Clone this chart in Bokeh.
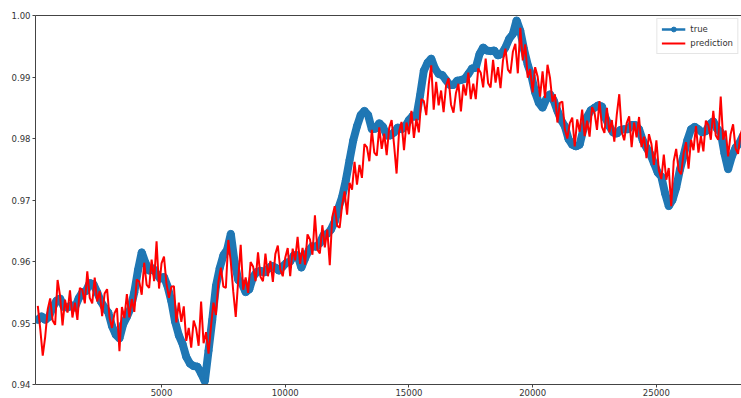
import numpy as np
from bokeh.plotting import figure
from bokeh.models import LinearAxis, FixedTicker, Range1d, Legend, LegendItem
from bokeh.embed import file_html
from bokeh.resources import INLINE

# sample index step for each series
true_step = 150
pred_step = 100

true_vals = [
    0.9505, 0.9511, 0.9505, 0.9510, 0.9525, 0.9536, 0.9540, 0.9526, 0.9525, 0.9529,
    0.9525, 0.9540, 0.9550, 0.9552, 0.9565, 0.9563, 0.9550, 0.9535, 0.9525, 0.9517,
    0.9495, 0.9481, 0.9475, 0.9498, 0.9510, 0.9524, 0.9550, 0.9586, 0.9615, 0.9598,
    0.9585, 0.9589, 0.9580, 0.9572, 0.9575, 0.9559, 0.9535, 0.9502, 0.9480, 0.9466,
    0.9445, 0.9434, 0.9430, 0.9429, 0.9418, 0.9405, 0.9455, 0.9505, 0.9560, 0.9589,
    0.9610, 0.9619, 0.9645, 0.9600, 0.9570, 0.9564, 0.9550, 0.9555, 0.9575, 0.9583,
    0.9585, 0.9582, 0.9588, 0.9593, 0.9590, 0.9585, 0.9592, 0.9598, 0.9600, 0.9610,
    0.9610, 0.9590, 0.9605, 0.9618, 0.9625, 0.9624, 0.9630, 0.9643, 0.9645, 0.9652,
    0.9665, 0.9687, 0.9705, 0.9732, 0.9765, 0.9797, 0.9820, 0.9838, 0.9845, 0.9838,
    0.9815, 0.9816, 0.9825, 0.9819, 0.9805, 0.9805, 0.9810, 0.9818, 0.9815, 0.9820,
    0.9830, 0.9837, 0.9835, 0.9870, 0.9910, 0.9923, 0.9930, 0.9914, 0.9905, 0.9903,
    0.9895, 0.9887, 0.9887, 0.9894, 0.9895, 0.9897, 0.9905, 0.9914, 0.9915, 0.9937,
    0.9948, 0.9943, 0.9942, 0.9943, 0.9935, 0.9938, 0.9948, 0.9962, 0.9970, 0.9992,
    0.9975, 0.9945, 0.9920, 0.9902, 0.9875, 0.9858, 0.9850, 0.9864, 0.9872, 0.9862,
    0.9845, 0.9830, 0.9820, 0.9799, 0.9790, 0.9787, 0.9790, 0.9815, 0.9835, 0.9846,
    0.9850, 0.9854, 0.9852, 0.9833, 0.9820, 0.9810, 0.9808, 0.9814, 0.9815, 0.9815,
    0.9822, 0.9822, 0.9815, 0.9797, 0.9785, 0.9775, 0.9760, 0.9745, 0.9738, 0.9711,
    0.9690, 0.9700, 0.9720, 0.9749, 0.9772, 0.9797, 0.9815, 0.9819, 0.9815, 0.9810,
    0.9812, 0.9823, 0.9828, 0.9816, 0.9810, 0.9776, 0.9750, 0.9771, 0.9785, 0.9792,
    0.9805,
]

pred_vals = [
    0.9528, 0.9490, 0.9447, 0.9478, 0.9522, 0.9540, 0.9504, 0.9497, 0.9570, 0.9544,
    0.9496, 0.9538, 0.9517, 0.9553, 0.9509, 0.9533, 0.9505, 0.9557, 0.9554, 0.9532,
    0.9584, 0.9541, 0.9532, 0.9574, 0.9535, 0.9552, 0.9511, 0.9548, 0.9555, 0.9509,
    0.9492, 0.9516, 0.9524, 0.9454, 0.9526, 0.9508, 0.9547, 0.9509, 0.9539, 0.9518,
    0.9571, 0.9567, 0.9546, 0.9598, 0.9562, 0.9557, 0.9603, 0.9568, 0.9633, 0.9556,
    0.9597, 0.9608, 0.9564, 0.9541, 0.9559, 0.9560, 0.9501, 0.9533, 0.9502, 0.9527,
    0.9471, 0.9492, 0.9460, 0.9504, 0.9491, 0.9463, 0.9535, 0.9467, 0.9485, 0.9450,
    0.9495, 0.9533, 0.9513, 0.9567, 0.9590, 0.9559, 0.9557, 0.9635, 0.9599, 0.9551,
    0.9510, 0.9570, 0.9627, 0.9554, 0.9574, 0.9549, 0.9599, 0.9592, 0.9568, 0.9615,
    0.9575, 0.9568, 0.9613, 0.9576, 0.9601, 0.9567, 0.9612, 0.9626, 0.9587, 0.9576,
    0.9606, 0.9622, 0.9576, 0.9621, 0.9602, 0.9640, 0.9596, 0.9622, 0.9595, 0.9644,
    0.9636, 0.9611, 0.9675, 0.9619, 0.9613, 0.9659, 0.9623, 0.9652, 0.9594, 0.9672,
    0.9690, 0.9658, 0.9655, 0.9692, 0.9714, 0.9676, 0.9728, 0.9717, 0.9762, 0.9725,
    0.9757, 0.9736, 0.9791, 0.9786, 0.9763, 0.9814, 0.9777, 0.9772, 0.9818, 0.9783,
    0.9808, 0.9773, 0.9817, 0.9830, 0.9789, 0.9743, 0.9811, 0.9827, 0.9781, 0.9826,
    0.9807, 0.9845, 0.9801, 0.9832, 0.9810, 0.9864, 0.9861, 0.9838, 0.9888, 0.9919,
    0.9847, 0.9892, 0.9854, 0.9878, 0.9843, 0.9886, 0.9898, 0.9855, 0.9842, 0.9874,
    0.9889, 0.9844, 0.9888, 0.9870, 0.9907, 0.9864, 0.9889, 0.9864, 0.9914, 0.9907,
    0.9883, 0.9930, 0.9890, 0.9883, 0.9928, 0.9891, 0.9916, 0.9882, 0.9927, 0.9946,
    0.9912, 0.9906, 0.9941, 0.9954, 0.9906, 0.9980, 0.9927, 0.9953, 0.9899, 0.9913,
    0.9875, 0.9916, 0.9901, 0.9868, 0.9909, 0.9866, 0.9920, 0.9899, 0.9860, 0.9872,
    0.9826, 0.9858, 0.9860, 0.9815, 0.9800, 0.9825, 0.9834, 0.9787, 0.9831, 0.9811,
    0.9847, 0.9804, 0.9829, 0.9803, 0.9851, 0.9842, 0.9814, 0.9861, 0.9819, 0.9809,
    0.9850, 0.9810, 0.9830, 0.9795, 0.9839, 0.9872, 0.9811, 0.9797, 0.9825, 0.9836,
    0.9786, 0.9826, 0.9802, 0.9835, 0.9786, 0.9803, 0.9768, 0.9807, 0.9791, 0.9757,
    0.9797, 0.9748, 0.9734, 0.9774, 0.9733, 0.9752, 0.9690, 0.9763, 0.9783, 0.9748,
    0.9742, 0.9776, 0.9794, 0.9751, 0.9798, 0.9781, 0.9820, 0.9777, 0.9804, 0.9779,
    0.9829, 0.9822, 0.9798, 0.9845, 0.9805, 0.9798, 0.9868, 0.9798, 0.9813, 0.9771,
    0.9807, 0.9823, 0.9784, 0.9775, 0.9806, 0.9819,
]

true_x = np.arange(len(true_vals)) * true_step
pred_x = np.arange(len(pred_vals)) * pred_step

x_ticks = [5000, 10000, 15000, 20000, 25000]
y_ticks = [0.94, 0.95, 0.96, 0.97, 0.98, 0.99, 1.00]

FONT = "DejaVu Sans"
AXC = "#444444"

p = figure(width=741, height=398, output_backend="svg", toolbar_location=None,
           x_range=Range1d(-93, 28440), y_range=Range1d(0.94, 1.00),
           min_border_left=35, min_border_right=0, min_border_top=15, min_border_bottom=0)
p.outline_line_color = None
p.xgrid.visible = False
p.ygrid.visible = False
p.background_fill_color = "white"
p.border_fill_color = "white"

for ax in (p.xaxis[0], p.yaxis[0]):
    ax.axis_line_color = AXC
    ax.major_tick_line_color = AXC
    ax.major_tick_out = 3
    ax.major_tick_in = 0
    ax.minor_tick_line_color = None
    ax.major_label_text_font = FONT
    ax.major_label_text_font_size = "8.5px"
    ax.major_label_text_color = "#333333"
    ax.major_label_standoff = 2

p.xaxis[0].major_label_standoff = 1
p.xaxis[0].ticker = FixedTicker(ticks=x_ticks)
p.yaxis[0].ticker = FixedTicker(ticks=y_ticks)
p.yaxis[0].major_label_overrides = {v: f"{v:.2f}" for v in y_ticks}

top = LinearAxis(ticker=FixedTicker(ticks=[]), axis_line_color=AXC,
                 major_tick_line_color=None, minor_tick_line_color=None,
                 major_label_text_font_size="0px")
p.add_layout(top, "above")

blue = "#1f77b4"
p.line(true_x, true_vals, line_color=blue, line_width=8)
p.scatter(true_x, true_vals, size=7, fill_color=blue, line_color=blue)
l2 = p.line(pred_x, pred_vals, line_color="red", line_width=2)

# legend-only glyphs (thin line with dot, as in the original key); NaN data draws nothing in the plot
leg_line = p.line([np.nan], [np.nan], line_color=blue, line_width=2.5)
leg_dot = p.scatter([np.nan], [np.nan], size=5, fill_color=blue, line_color=blue)

legend = Legend(items=[LegendItem(label="true", renderers=[leg_line, leg_dot]),
                       LegendItem(label="prediction", renderers=[l2])],
                location="top_right")
legend.label_text_font = FONT
legend.label_text_font_size = "8.5px"
legend.label_text_color = "#333333"
legend.glyph_height = 12
legend.glyph_width = 24
legend.label_height = 12
legend.spacing = 2
legend.padding = 4
legend.margin = 3
legend.border_line_color = "#cccccc"
legend.background_fill_alpha = 0.8
p.add_layout(legend)

open("out.html", "w").write(file_html(p, INLINE))
